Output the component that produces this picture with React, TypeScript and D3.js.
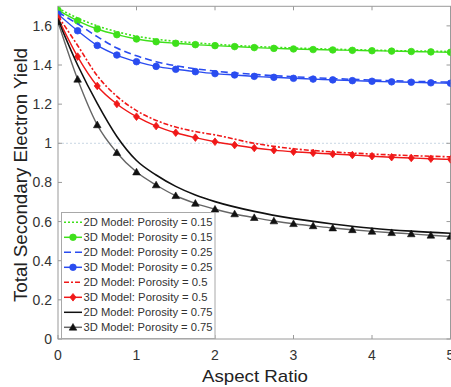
import React from 'react';
import * as d3 from 'd3';

const X3D = [0, 0.25, 0.5, 0.75, 1, 1.25, 1.5, 1.75, 2, 2.25, 2.5, 2.75, 3, 3.25, 3.5, 3.75, 4, 4.25, 4.5, 4.75, 5];
const X2D = [0, 0.25, 0.5, 0.75, 1, 1.25, 1.5, 1.75, 2, 2.5, 3, 3.5, 4, 4.5, 5];

const green2D = [1.69, 1.64, 1.6, 1.57, 1.547, 1.532, 1.521, 1.513, 1.506, 1.495, 1.487, 1.481, 1.476, 1.472, 1.469];
const green3D = [1.68, 1.626, 1.584, 1.555, 1.533, 1.519, 1.511, 1.504, 1.499, 1.494, 1.489, 1.485, 1.482, 1.479, 1.477, 1.475, 1.473, 1.471, 1.469, 1.467, 1.465];
const blue2D = [1.67, 1.61, 1.545, 1.487, 1.447, 1.417, 1.396, 1.381, 1.369, 1.352, 1.34, 1.331, 1.323, 1.317, 1.312];
const blue3D = [1.66, 1.575, 1.5, 1.451, 1.417, 1.393, 1.378, 1.366, 1.356, 1.349, 1.342, 1.337, 1.332, 1.328, 1.324, 1.32, 1.317, 1.314, 1.312, 1.309, 1.307];
const red2D = [1.65, 1.5, 1.345, 1.24, 1.167, 1.117, 1.083, 1.06, 1.043, 1.0, 0.972, 0.956, 0.945, 0.937, 0.931];
const red3D = [1.64, 1.443, 1.293, 1.201, 1.136, 1.088, 1.054, 1.029, 1.008, 0.991, 0.976, 0.965, 0.957, 0.951, 0.945, 0.94, 0.934, 0.929, 0.925, 0.921, 0.918];
const black2D = [1.63, 1.4, 1.204, 1.035, 0.912, 0.838, 0.78, 0.736, 0.702, 0.652, 0.615, 0.588, 0.566, 0.551, 0.54];
const black3D = [1.62, 1.327, 1.094, 0.952, 0.853, 0.787, 0.732, 0.693, 0.663, 0.639, 0.62, 0.603, 0.589, 0.578, 0.567, 0.558, 0.55, 0.543, 0.537, 0.53, 0.524];

const xTicks = [0, 1, 2, 3, 4, 5];
const yTicks = [0, 0.2, 0.4, 0.6, 0.8, 1, 1.2, 1.4, 1.6];
const legendLabels = [
  '2D Model: Porosity = 0.15',
  '3D Model: Porosity = 0.15',
  '2D Model: Porosity = 0.25',
  '3D Model: Porosity = 0.25',
  '2D Model: Porosity = 0.5',
  '3D Model: Porosity = 0.5',
  '2D Model: Porosity = 0.75',
  '3D Model: Porosity = 0.75',
];

type Series = { kind: '2D' | '3D'; ys: number[]; color: string; lineColor: string; dash: string; marker: string };

const series: Series[] = [
  { kind: '2D', ys: green2D, color: '#3ee01a', lineColor: '#3ee01a', dash: '2,2', marker: 'none' },
  { kind: '3D', ys: green3D, color: '#3ee01a', lineColor: '#3ee01a', dash: '', marker: 'circle' },
  { kind: '2D', ys: blue2D, color: '#2a4cf0', lineColor: '#2a4cf0', dash: '7,4', marker: 'none' },
  { kind: '3D', ys: blue3D, color: '#2a4cf0', lineColor: '#2a4cf0', dash: '', marker: 'circle' },
  { kind: '2D', ys: red2D, color: '#f01818', lineColor: '#f01818', dash: '5,2,2,2', marker: 'none' },
  { kind: '3D', ys: red3D, color: '#f01818', lineColor: '#f01818', dash: '', marker: 'diamond' },
  { kind: '2D', ys: black2D, color: '#111', lineColor: '#111', dash: '', marker: 'none' },
  { kind: '3D', ys: black3D, color: '#111', lineColor: '#666', dash: '', marker: 'triangle' },
];

const W = 451, H = 387;
const x = d3.scaleLinear().domain([0, 5]).range([58, 450.5]);
const y = d3.scaleLinear().domain([0, 1.7]).range([339, 6.3]);

function Marker({ type, cx, cy, color }: { type: string; cx: number; cy: number; color: string }) {
  if (type === 'circle') return <circle cx={cx} cy={cy} r={3.3} fill={color} stroke={color} strokeWidth={0.8} />;
  if (type === 'diamond') {
    const s = 3.8;
    return <path d={`M${cx},${cy - s}L${cx + s * 0.8},${cy}L${cx},${cy + s}L${cx - s * 0.8},${cy}Z`} fill={color} stroke={color} strokeWidth={0.8} />;
  }
  if (type === 'triangle') {
    const s = 3.8;
    return <path d={`M${cx},${cy - s}L${cx + s},${cy + s * 0.75}L${cx - s},${cy + s * 0.75}Z`} fill={color} stroke={color} strokeWidth={0.6} />;
  }
  return null;
}

export default function App() {
  const line = d3.line<[number, number]>().x(d => x(d[0])).y(d => y(d[1])).curve(d3.curveMonotoneX);
  const font = 'Liberation Sans, Arial, sans-serif';
  const legX = 61.5, legY = 212.5, legW = 153.5, legH = 126;
  return (
    <svg width={W} height={H} style={{ position: 'absolute', left: 0, top: 0, background: '#fff' }} fontFamily={font}>
      <defs>
        <clipPath id="plot"><rect x={x(0)} y={y(1.7)} width={x(5) - x(0)} height={y(0) - y(1.7)} /></clipPath>
      </defs>
      <rect x={0} y={0} width={W} height={H} fill="#fff" />
      <line x1={x(0)} x2={x(5)} y1={y(1)} y2={y(1)} stroke="#c9d6e3" strokeWidth={1} strokeDasharray="2,2" />
      <rect x={x(0)} y={y(1.7)} width={x(5) - x(0)} height={y(0) - y(1.7)} fill="none" stroke="#9a9a9a" strokeWidth={1} />
      {xTicks.map(t => (
        <g key={'xt' + t}>
          <line x1={x(t)} x2={x(t)} y1={y(0)} y2={y(0) - 4} stroke="#9a9a9a" />
          <line x1={x(t)} x2={x(t)} y1={y(1.7)} y2={y(1.7) + 4} stroke="#9a9a9a" />
          <text x={x(t)} y={y(0) + 21} textAnchor="middle" fontSize={14} fill="#333">{t}</text>
        </g>
      ))}
      {yTicks.map(t => (
        <g key={'yt' + t}>
          <line x1={x(0)} x2={x(0) + 4} y1={y(t)} y2={y(t)} stroke="#9a9a9a" />
          <line x1={x(5)} x2={x(5) - 4} y1={y(t)} y2={y(t)} stroke="#9a9a9a" />
          <text x={x(0) - 6} y={y(t) + 5} textAnchor="end" fontSize={14} fill="#333">{d3.format('~g')(t)}</text>
        </g>
      ))}
      <g clipPath="url(#plot)">
        {series.map((s, i) => {
          const xs = s.kind === '2D' ? X2D : X3D;
          const pts = xs.map((xv, j) => [xv, s.ys[j]] as [number, number]);
          return (
            <g key={i}>
              <path d={line(pts) || ''} fill="none" stroke={s.lineColor} strokeWidth={s.kind === '2D' ? 1.6 : 1.4} strokeDasharray={s.dash || undefined} />
              {s.marker !== 'none' && pts.map((p, j) => <Marker key={j} type={s.marker} cx={x(p[0])} cy={y(p[1])} color={s.color} />)}
            </g>
          );
        })}
      </g>
      <rect x={legX} y={legY} width={legW} height={legH} fill="#fff" stroke="#a8a8a8" strokeWidth={1} />
      {series.map((s, i) => {
        const cy = 222.3 + i * 15;
        return (
          <g key={'lg' + i}>
            <line x1={64} x2={82} y1={cy} y2={cy} stroke={s.lineColor} strokeWidth={1.5} strokeDasharray={s.dash || undefined} />
            {s.marker !== 'none' && <Marker type={s.marker} cx={73} cy={cy} color={s.color} />}
            <text x={83.5} y={cy + 4} fontSize={11} fill="#333" textLength={legendLabels[i].length > 24 ? 129 : 124} lengthAdjust="spacingAndGlyphs">{legendLabels[i]}</text>
          </g>
        );
      })}
      <text x={255} y={382} textAnchor="middle" fontSize={17} fill="#222" textLength={106} lengthAdjust="spacingAndGlyphs">Aspect Ratio</text>
      <text transform={`translate(27,${175}) rotate(-90)`} textAnchor="middle" fontSize={17.5} fill="#222" textLength={254} lengthAdjust="spacingAndGlyphs">Total Secondary Electron Yield</text>
    </svg>
  );
}
